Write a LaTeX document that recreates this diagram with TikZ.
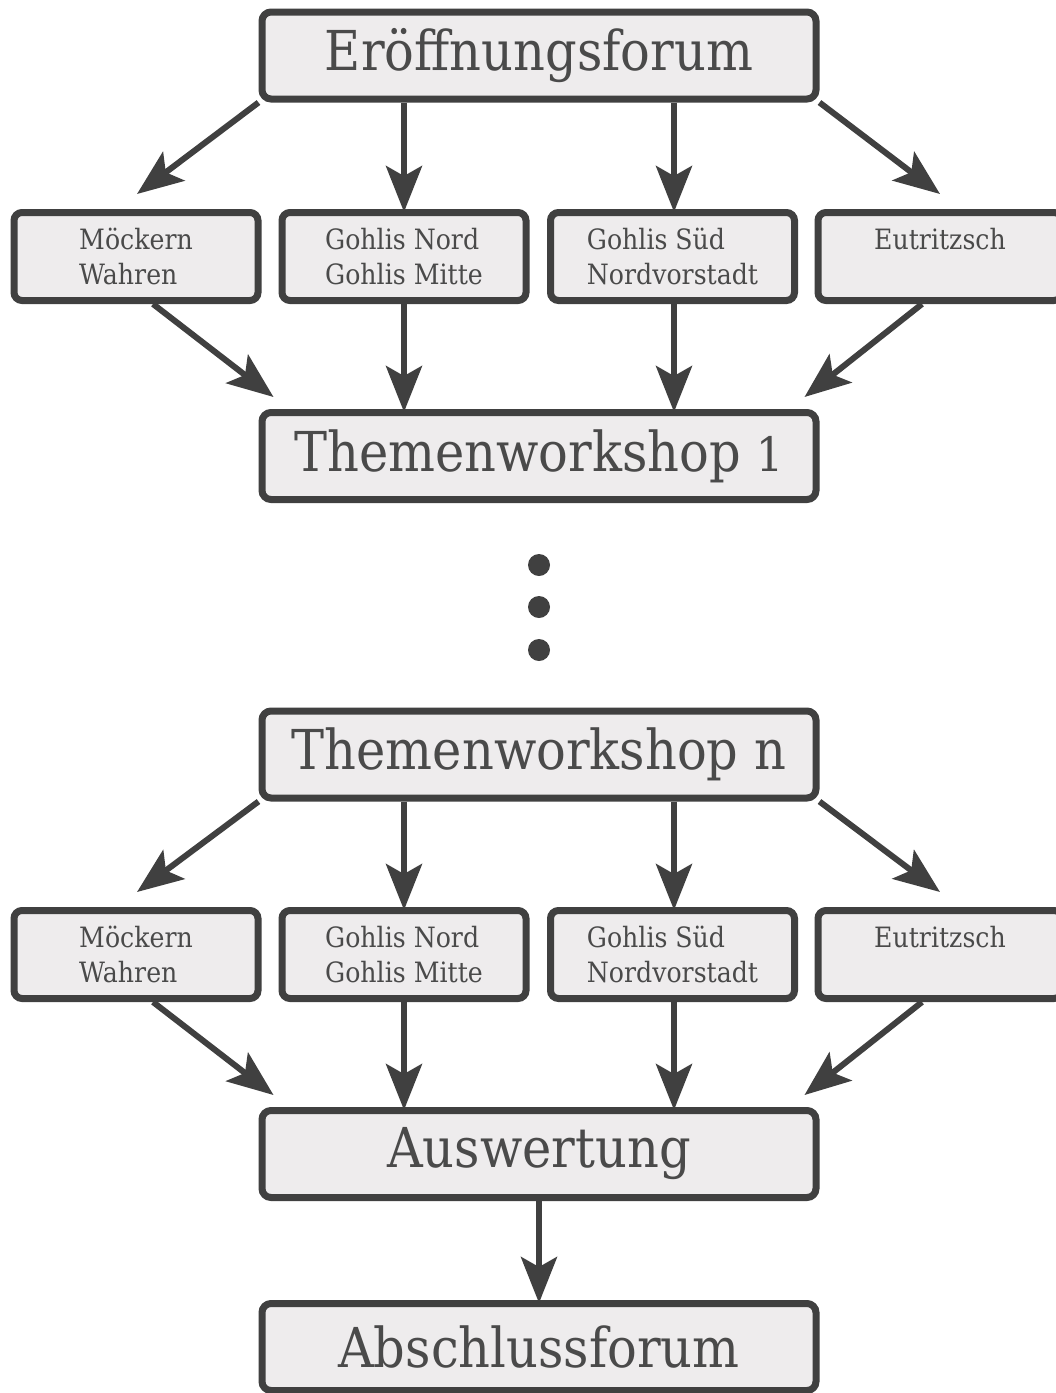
\documentclass[tikz,border=0pt]{standalone}
\usepackage{fontspec}
\setmainfont[FakeStretch=0.9]{DejaVu Serif}
\usetikzlibrary{arrows.meta,calc}
\definecolor{lc}{HTML}{404040}
\definecolor{fc}{HTML}{EEECED}
\definecolor{tc}{HTML}{4A4A4A}
\tikzset{
  bigbox/.style={draw=lc, fill=fc, line width=7pt, rounded corners=9pt,
    minimum width=554pt, minimum height=87pt, inner sep=0pt, text=tc,
    font=\fontsize{55}{60}\selectfont},
  smallbox/.style={draw=lc, fill=fc, line width=7pt, rounded corners=8pt,
    minimum width=244pt, minimum height=88pt, inner sep=0pt, text=tc,
    align=left, font=\fontsize{28}{35}\selectfont},
  arr/.style={draw=lc, line width=6pt,
    -{Stealth[length=46pt,width=36pt,inset=10pt]}},
  dotnode/.style={circle, fill=lc, minimum size=22pt, inner sep=0pt}
}
\begin{document}
\begin{tikzpicture}[x=1pt,y=1pt]
\useasboundingbox[fill=white] (0,0) rectangle (1056,-1393);

% upper part
\node[bigbox] (eo) at (539,-55.5) {Eröffnungsforum};
\node[smallbox] (a1) at (136,-256.5) {Möckern\\Wahren};
\node[smallbox] (a2) at (404,-256.5) {Gohlis Nord\\Gohlis Mitte};
\node[smallbox] (a3) at (672.5,-256.5) {Gohlis Süd\\Nordvorstadt};
\node[smallbox] (a4) at (940,-256.5) {Eutritzsch\\\mbox{}};
\node[bigbox] (t1) at (539,-456) {Themenworkshop \scalebox{0.86}{1}};

\draw[arr] (eo.south west) -- ($(a1.north)+(1,15)$);
\draw[arr] (eo.south -| a2.north) -- ($(a2.north)+(0,-3)$);
\draw[arr] (eo.south -| 674,0) -- ($(a3.north)+(1.5,-3)$);
\draw[arr] (eo.south east) -- ($(a4.north)+(0,15)$);

\draw[arr] ($(a1.south)+(17,0)$) -- ($(t1.north west)+(15,12)$);
\draw[arr] (a2.south) -- ($(t1.north -| a2.south)+(0,-3)$);
\draw[arr] (a3.south -| 674,0) -- ($(t1.north -| 674,0)+(0,-3)$);
\draw[arr] ($(a4.south)+(-18,0)$) -- ($(t1.north east)+(-15,12)$);

% dots
\node[dotnode] (d1) at (539,-565) {};
\node[dotnode] (d2) at (539,-607) {};
\node[dotnode] (d3) at (539,-650) {};

% lower part
\node[bigbox] (tn) at (539,-754.5) {Themenworkshop n};
\node[smallbox] (b1) at (136,-954.5) {Möckern\\Wahren};
\node[smallbox] (b2) at (404,-954.5) {Gohlis Nord\\Gohlis Mitte};
\node[smallbox] (b3) at (672.5,-954.5) {Gohlis Süd\\Nordvorstadt};
\node[smallbox] (b4) at (940,-954.5) {Eutritzsch\\\mbox{}};
\node[bigbox] (au) at (539,-1154) {Auswertung};
\node[bigbox] (ab) at (539,-1347) {Abschlussforum};

\draw[arr] (tn.south west) -- ($(b1.north)+(1,15)$);
\draw[arr] (tn.south -| b2.north) -- ($(b2.north)+(0,-3)$);
\draw[arr] (tn.south -| 674,0) -- ($(b3.north)+(1.5,-3)$);
\draw[arr] (tn.south east) -- ($(b4.north)+(0,15)$);

\draw[arr] ($(b1.south)+(17,0)$) -- ($(au.north west)+(15,12)$);
\draw[arr] (b2.south) -- ($(au.north -| b2.south)+(0,-3)$);
\draw[arr] (b3.south -| 674,0) -- ($(au.north -| 674,0)+(0,-3)$);
\draw[arr] ($(b4.south)+(-18,0)$) -- ($(au.north east)+(-15,12)$);

\draw[arr] (au.south) -- ($(ab.north)+(0,-3)$);
\end{tikzpicture}
\end{document}
